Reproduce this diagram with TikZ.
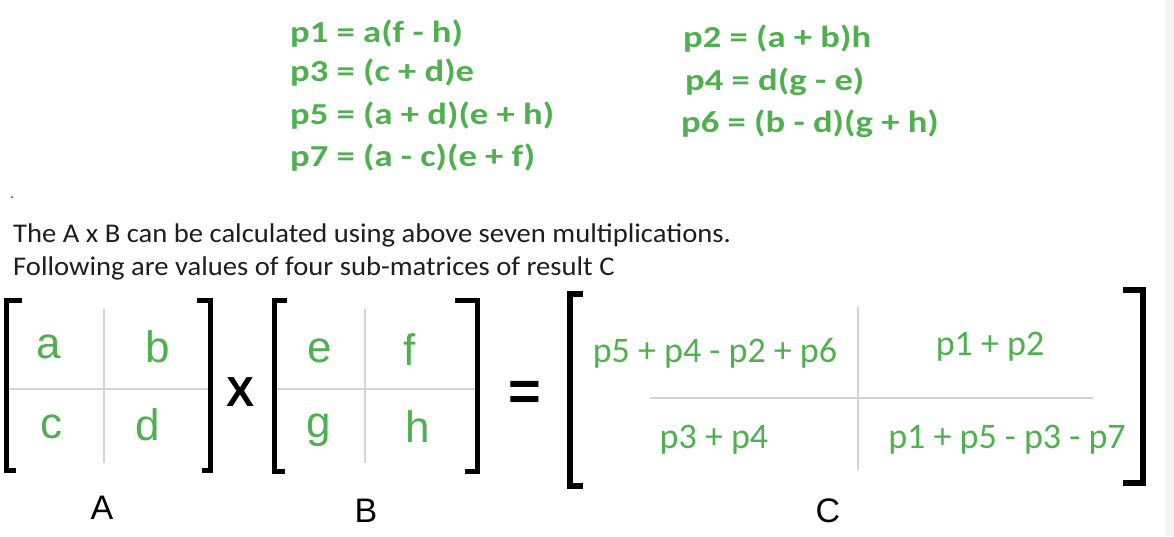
\documentclass[tikz,border=0pt]{standalone}
\usepackage{fontspec}
\setmainfont{Carlito}
\newfontfamily\formfont[FakeStretch=1.2]{Carlito}
\newfontfamily\parafont[FakeStretch=1.06]{Carlito}
\newfontfamily\arialfont{Liberation Sans}
\definecolor{grn}{RGB}{80,176,80}
\definecolor{gridgray}{RGB}{212,212,212}
\definecolor{txt}{RGB}{30,30,30}
\tikzset{
  formula/.style={inner sep=0pt, anchor=base west, text=grn, font=\formfont\bfseries\fontsize{30.5}{30.5}\selectfont},
  para/.style={inner sep=0pt, anchor=base west, text=txt, font=\parafont\fontsize{27}{27}\selectfont},
  entry/.style={inner sep=0pt, anchor=base, text=grn, font=\arialfont\fontsize{44}{44}\selectfont},
  centry/.style={inner sep=0pt, anchor=base, text=grn, font=\fontsize{36}{36}\selectfont},
  mlabel/.style={inner sep=0pt, anchor=base, text=black, font=\arialfont\fontsize{34}{34}\selectfont},
  opsym/.style={inner sep=0pt, anchor=base, text=black, font=\arialfont\bfseries\fontsize{42}{42}\selectfont},
  brk/.style={line width=5pt, line join=miter, line cap=butt, black},
  cbrk/.style={line width=6pt, line join=miter, line cap=butt, black},
  gline/.style={line width=2pt, gridgray}
}
\begin{document}
\begin{tikzpicture}[x=1pt, y=-1pt]
\useasboundingbox (0,0) rectangle (1174,536);
\fill[white] (0,0) rectangle (1174,536);
\fill[black!4] (1165,0) rectangle (1174,536);

% top formulas
\node[formula] (p1) at (290,42) {p1 = a(f - h)};
\node[formula] (p3) at (290,81) {p3 = (c + d)e};
\node[formula] (p5) at (290,124) {p5 = (a + d)(e + h)};
\node[formula] (p7) at (290,166) {p7 = (a - c)(e + f)};
\node[formula] (p2) at (683,47) {p2 = (a + b)h};
\node[formula] (p4) at (685,90) {p4 = d(g - e)};
\node[formula] (p6) at (681,132) {p6 = (b - d)(g + h)};

\fill[red!55!black] (12,197) circle (1);

% paragraph
\node[para] (l1) at (13,242) {The A x B can be calculated using above seven multiplications.};
\node[para] (l2) at (13,275) {Following are values of four sub-matrices of result C};

% matrix A
\draw[gline] (8,389) -- (208,389);
\draw[gline] (104,309) -- (104,463);
\draw[brk] (22,300) -- (6,300) -- (6,470) -- (16,470);
\draw[brk] (197,300) -- (210,300) -- (210,470) -- (202,470);
\node[entry] (a) at (49,358) {a};
\node[entry] (b) at (158,362) {b};
\node[entry] (c) at (51,438) {c};
\node[entry] (d) at (148,440) {d};
\node[mlabel] (A) at (102,519) {A};

\node[opsym] (times) at (241,406) {X};

% matrix B
\draw[gline] (273,389) -- (475,389);
\draw[gline] (365,309) -- (365,463);
\draw[brk] (287,300) -- (274,300) -- (274,471) -- (285,471);
\draw[brk] (455,300) -- (477,300) -- (477,471) -- (465,471);
\node[entry] (e) at (320,362) {e};
\node[entry] (f) at (410,365) {f};
\node[entry] (g) at (319,437) {g};
\node[entry] (h) at (418,442) {h};
\node[mlabel] (B) at (366,522) {B};

\node[opsym, font=\arialfont\bfseries\fontsize{56}{56}\selectfont] (eq) at (525,410) {=};

% matrix C
\draw[gline] (650,398) -- (1093,398);
\draw[gline] (858,307) -- (858,470);
\draw[cbrk] (583,293.5) -- (570,293.5) -- (570,486) -- (583,486);
\draw[cbrk] (1123,290) -- (1143,290) -- (1143,483) -- (1123,483);
\node[centry] (c11) at (715,362) {p5 + p4 - p2 + p6};
\node[centry] (c12) at (990,355) {p1 + p2};
\node[centry] (c21) at (714,448) {p3 + p4};
\node[centry] (c22) at (1007,448) {p1 + p5 - p3 - p7};
\node[mlabel] (C) at (828,522) {C};
\end{tikzpicture}
\end{document}
